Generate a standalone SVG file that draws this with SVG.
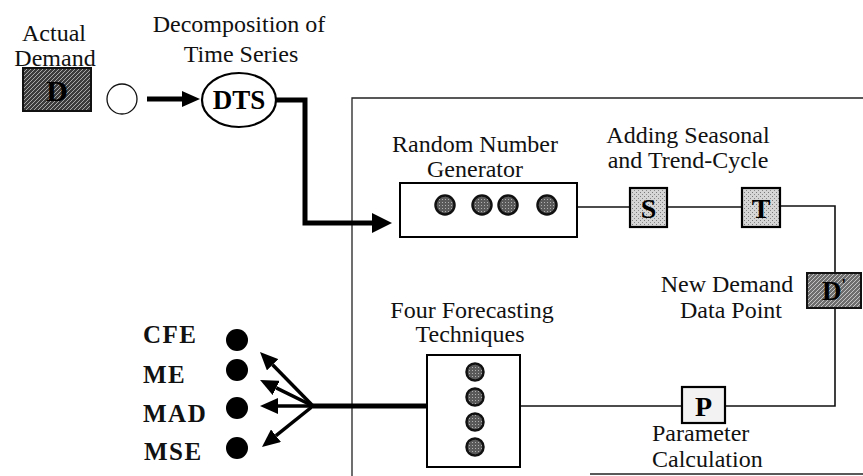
<svg xmlns="http://www.w3.org/2000/svg" width="863" height="476" viewBox="0 0 863 476">
  <defs>
    <style>
      .lbl { font-family: "Liberation Serif", "Times New Roman", serif; font-size: 24px; fill: #111; }
      .mid { text-anchor: middle; }
      .bold { font-weight: bold; }
      .metric { font-family: "Liberation Serif", "Times New Roman", serif; font-size: 25px; font-weight: bold; letter-spacing: 1.5px; fill: #111; }
      .glyph { font-family: "Liberation Serif", "Times New Roman", serif; font-weight: bold; fill: #000; text-anchor: middle; }
      .thin { fill: none; stroke: #111; stroke-width: 1.6; }
      .thick { fill: none; stroke: #000; stroke-width: 5; }
      .fan { fill: none; stroke: #000; stroke-width: 3.5; }
      .frame { fill: none; stroke: #222; stroke-width: 1.3; }
      .box { fill: #fff; stroke: #000; stroke-width: 2; }
      .ball { fill: url(#speckle); stroke: #111; stroke-width: 2.5; }
    </style>
    <!-- dark diagonal hatching for the demand tiles -->
    <pattern id="hatchDark" patternUnits="userSpaceOnUse" width="4" height="4">
      <rect width="4" height="4" fill="#3c3c3c"/>
      <path d="M0,4 L4,0 M-1,1 L1,-1 M3,5 L5,3" stroke="#a8a8a8" stroke-width="1"/>
    </pattern>
    <pattern id="hatchMid" patternUnits="userSpaceOnUse" width="4" height="4">
      <rect width="4" height="4" fill="#6e6e6e"/>
      <path d="M0,4 L4,0 M-1,1 L1,-1 M3,5 L5,3" stroke="#c4c4c4" stroke-width="1"/>
    </pattern>
    <!-- light stipple for the component tiles -->
    <pattern id="stipple" patternUnits="userSpaceOnUse" width="4" height="4">
      <rect width="4" height="4" fill="#d6d6d6"/>
      <rect x="0" y="0" width="1" height="1" fill="#7a7a7a"/>
      <rect x="2" y="2" width="1" height="1" fill="#8a8a8a"/>
    </pattern>
    <pattern id="speckle" patternUnits="userSpaceOnUse" width="3" height="3">
      <rect width="3" height="3" fill="#5a5a5a"/>
      <rect x="1" y="1" width="1" height="1" fill="#b0b0b0"/>
    </pattern>
    <marker id="headBig" viewBox="0 0 20 20" refX="0" refY="10" markerUnits="userSpaceOnUse" markerWidth="20" markerHeight="20" orient="auto">
      <path d="M0,0 L20,10 L0,20 z" fill="#000"/>
    </marker>
    <marker id="headMed" viewBox="0 0 18 16" refX="0" refY="8" markerUnits="userSpaceOnUse" markerWidth="18" markerHeight="16" orient="auto">
      <path d="M0,0 L18,8 L0,16 z" fill="#000"/>
    </marker>
  </defs>

  <rect width="863" height="476" fill="#fff"/>

  <!-- simulation frame -->
  <g id="frame">
    <path class="frame" d="M863,98 H352 V476"/>
    <path class="frame" d="M590,474 H863"/>
  </g>

  <!-- connectors -->
  <g id="connectors">
    <path class="thick" d="M147,99 H182" marker-end="url(#headMed)"/>
    <path class="thick" d="M276,100 H305 V223 H372" marker-end="url(#headBig)"/>
    <path class="thin" d="M577,207 H630"/>
    <path class="thin" d="M667,207 H742"/>
    <path class="thin" d="M780,206 H835 V273"/>
    <path class="thin" d="M835,308 V406 H725"/>
    <path class="thin" d="M682,406 H520"/>
    <path class="thick" d="M427,406 H313"/>
    <path class="fan" d="M313,406 L272.6,364.8" marker-end="url(#headMed)"/>
    <path class="fan" d="M313,406 L276.2,387.9" marker-end="url(#headMed)"/>
    <path class="fan" d="M313,406 L278,406" marker-end="url(#headMed)"/>
    <path class="fan" d="M313,406 L276,435.7" marker-end="url(#headMed)"/>
  </g>

  <g id="actual-demand">
    <text class="lbl mid" x="54" y="41">Actual</text>
    <text class="lbl mid" x="55" y="66">Demand</text>
    <rect x="23" y="68" width="68" height="43" fill="url(#hatchDark)" stroke="#111" stroke-width="2"/>
    <text class="glyph" x="57" y="101" font-size="30">D</text>
  </g>

  <g id="start">
    <circle cx="122" cy="99" r="15" fill="#fff" stroke="#111" stroke-width="1.3"/>
  </g>

  <g id="dts">
    <text class="lbl mid" x="239" y="32">Decomposition of</text>
    <text class="lbl mid" x="241" y="62">Time Series</text>
    <ellipse cx="239" cy="100" rx="37" ry="27" fill="#fff" stroke="#000" stroke-width="2.2"/>
    <text class="glyph" x="239" y="109" font-size="27">DTS</text>
  </g>

  <g id="rng">
    <text class="lbl mid" x="475" y="152">Random Number</text>
    <text class="lbl mid" x="475" y="177">Generator</text>
    <rect class="box" x="400" y="183" width="177" height="54"/>
    <circle class="ball" cx="445" cy="205" r="9.5"/>
    <circle class="ball" cx="482" cy="205" r="9.5"/>
    <circle class="ball" cx="508" cy="205" r="9.5"/>
    <circle class="ball" cx="547" cy="205" r="9.5"/>
  </g>

  <g id="seasonal-trend">
    <text class="lbl mid" x="688" y="143">Adding Seasonal</text>
    <text class="lbl mid" x="688" y="168">and Trend-Cycle</text>
  </g>

  <g id="s-box">
    <rect x="630" y="188" width="37" height="39" fill="url(#stipple)" stroke="#000" stroke-width="2.2"/>
    <text class="glyph" x="648.5" y="218" font-size="28">S</text>
  </g>

  <g id="t-box">
    <rect x="742" y="188" width="38" height="39" fill="url(#stipple)" stroke="#000" stroke-width="2.2"/>
    <text class="glyph" x="761" y="218" font-size="28">T</text>
  </g>

  <g id="new-demand">
    <text class="lbl mid" x="727" y="292">New Demand</text>
    <text class="lbl mid" x="731" y="318">Data Point</text>
    <rect x="807" y="273" width="54" height="35" fill="url(#hatchMid)" stroke="#111" stroke-width="2"/>
    <text class="glyph" x="834" y="300" font-size="27">D<tspan font-size="16" dy="-10">'</tspan></text>
  </g>

  <g id="p-box">
    <rect x="682" y="387" width="43" height="36" fill="#f2f2f2" stroke="#000" stroke-width="2.2"/>
    <text class="glyph" x="703.5" y="416" font-size="28">P</text>
    <text class="lbl" x="652" y="441">Parameter</text>
    <text class="lbl" x="652" y="467">Calculation</text>
  </g>

  <g id="forecasting">
    <text class="lbl mid" x="472" y="318">Four Forecasting</text>
    <text class="lbl mid" x="470" y="342">Techniques</text>
    <rect class="box" x="427" y="355" width="93" height="112"/>
    <circle class="ball" cx="475" cy="372" r="8.5"/>
    <circle class="ball" cx="475" cy="397" r="8.5"/>
    <circle class="ball" cx="475" cy="422" r="8.5"/>
    <circle class="ball" cx="475" cy="447" r="8.5"/>
  </g>

  <g id="metrics">
    <text class="metric" x="143" y="343">CFE</text>
    <text class="metric" x="143" y="383">ME</text>
    <text class="metric" x="143" y="422">MAD</text>
    <text class="metric" x="144" y="460">MSE</text>
    <circle cx="237" cy="340" r="11" fill="#000"/>
    <circle cx="237" cy="370" r="11" fill="#000"/>
    <circle cx="237" cy="408" r="11" fill="#000"/>
    <circle cx="237" cy="448" r="11" fill="#000"/>
  </g>
</svg>
